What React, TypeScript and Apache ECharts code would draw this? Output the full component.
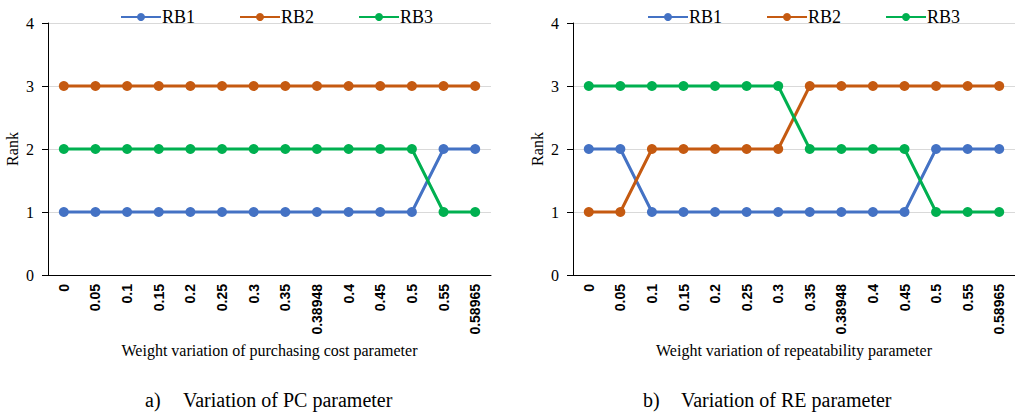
import React, { useEffect, useRef } from "react";
import * as echarts from "echarts";

const categories = ["0", "0.05", "0.1", "0.15", "0.2", "0.25", "0.3", "0.35", "0.38948", "0.4", "0.45", "0.5", "0.55", "0.58965"];
const seriesNames = ["RB1", "RB2", "RB3"];
const colors = ["#4472C4", "#C55A11", "#00B050"];

// Panel a) purchasing cost
const pcRB1 = [1, 1, 1, 1, 1, 1, 1, 1, 1, 1, 1, 1, 2, 2];
const pcRB2 = [3, 3, 3, 3, 3, 3, 3, 3, 3, 3, 3, 3, 3, 3];
const pcRB3 = [2, 2, 2, 2, 2, 2, 2, 2, 2, 2, 2, 2, 1, 1];

// Panel b) repeatability
const reRB1 = [2, 2, 1, 1, 1, 1, 1, 1, 1, 1, 1, 2, 2, 2];
const reRB2 = [1, 1, 2, 2, 2, 2, 2, 3, 3, 3, 3, 3, 3, 3];
const reRB3 = [3, 3, 3, 3, 3, 3, 3, 2, 2, 2, 2, 1, 1, 1];

const yTicks = [0, 1, 2, 3, 4];

const xTitles = ["Weight variation of purchasing cost parameter", "Weight variation of repeatability parameter"];
const captionLetters = ["a)", "b)"];
const captionTexts = ["Variation of PC parameter", "Variation of RE parameter"];

const SERIF = "Liberation Serif, Times New Roman, serif";
const SANS = "Liberation Sans Narrow, Liberation Sans, Arial, sans-serif";

export default function App() {
  const ref = useRef<HTMLDivElement>(null);
  useEffect(() => {
    if (!ref.current) return;
    const chart = echarts.init(ref.current, null, { renderer: "svg" });
    const grids = [
      { left: 48, top: 23, width: 443, height: 252 },
      { left: 573, top: 23, width: 445, height: 252 },
    ];
    const panelData = [
      [pcRB1, pcRB2, pcRB3],
      [reRB1, reRB2, reRB3],
    ];
    const xAxes = grids.map((_, i) => ({
      type: "category",
      gridIndex: i,
      data: categories,
      boundaryGap: true,
      name: xTitles[i],
      nameLocation: "middle",
      nameGap: 64,
      nameTextStyle: { fontFamily: SERIF, fontSize: 16, color: "#000" },
      axisLine: { lineStyle: { color: "#000", width: 1 } },
      axisTick: { alignWithLabel: true, length: 5, lineStyle: { color: "#000" } },
      axisLabel: {
        rotate: 90,
        interval: 0,
        margin: 9,
        fontFamily: SANS,
        fontWeight: "bold",
        fontSize: 14,
        color: "#000",
      },
      splitLine: { show: false },
    }));
    const yAxes = grids.map((_, i) => ({
      type: "value",
      gridIndex: i,
      min: yTicks[0],
      max: yTicks[yTicks.length - 1],
      interval: 1,
      name: "Rank",
      nameLocation: "middle",
      nameGap: 28,
      nameTextStyle: { fontFamily: SERIF, fontSize: 16, color: "#000" },
      axisLine: { show: true, lineStyle: { color: "#000", width: 1 } },
      axisTick: { show: true, length: 6, lineStyle: { color: "#000" } },
      axisLabel: { fontFamily: SERIF, fontSize: 16, color: "#000", margin: 14 },
      splitLine: { show: true, lineStyle: { color: "#D9D9D9", width: 1 } },
    }));
    const series: any[] = [];
    panelData.forEach((arrs, p) => {
      arrs.forEach((d, k) => {
        series.push({
          type: "line",
          name: seriesNames[k],
          xAxisIndex: p,
          yAxisIndex: p,
          data: d,
          symbol: "circle",
          symbolSize: 10,
          lineStyle: { color: colors[k], width: 3 },
          itemStyle: { color: colors[k] },
          z: 2 + k,
        });
      });
    });
    const legends = [115, 642].map((left) => ({
      data: seriesNames,
      left,
      top: 3,
      itemWidth: 40,
      itemHeight: 10,
      itemGap: 44,
      textStyle: { fontFamily: SERIF, fontSize: 18, color: "#000", padding: [0, 0, 0, -4] },
      selectedMode: false,
    }));
    const graphics: any[] = [];
    [145, 643].forEach((x, i) => {
      graphics.push({
        type: "text",
        left: x,
        top: 390,
        style: { text: captionLetters[i], font: `20px ${SERIF}`, fill: "#000" },
      });
      graphics.push({
        type: "text",
        left: x + 38,
        top: 390,
        style: { text: captionTexts[i], font: `20px ${SERIF}`, fill: "#000" },
      });
    });
    chart.setOption({
      animation: false,
      backgroundColor: "#fff",
      grid: grids,
      xAxis: xAxes,
      yAxis: yAxes,
      legend: legends,
      series,
      graphic: graphics,
    });
    return () => chart.dispose();
  }, []);
  return (
    <div
      ref={ref}
      style={{ position: "absolute", left: 0, top: 0, width: 1015, height: 415, background: "#fff" }}
    />
  );
}
